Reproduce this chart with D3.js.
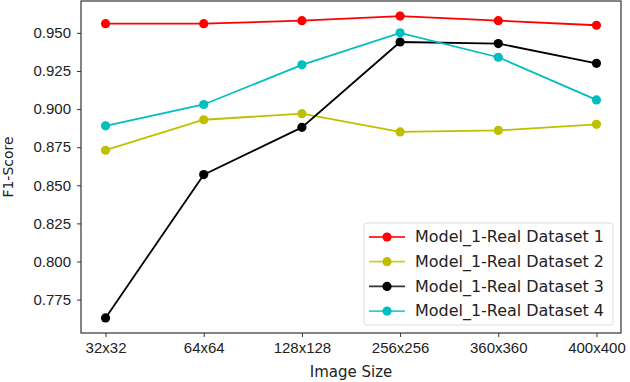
<!DOCTYPE html>
<html lang="en">
  <head>
    <meta charset="UTF-8" />
    <title>F1-Score vs Image Size</title>
    <script src="https://d3js.org/d3.v7.min.js"></script>
    <style>
      body {
        margin: 0;
        background: #fff;
        font-family: "DejaVu Sans", sans-serif;
      }
      text {
        fill: #222;
      }
    </style>
  </head>
  <body>
    <svg id="chart" width="630" height="382"></svg>

    <script>
      // Chart data
      const categories = ["32x32", "64x64", "128x128", "256x256", "360x360", "400x400"];
      const seriesNames = [
        "Model_1-Real Dataset 1",
        "Model_1-Real Dataset 2",
        "Model_1-Real Dataset 3",
        "Model_1-Real Dataset 4"
      ];
      const dataset1 = [0.956, 0.956, 0.958, 0.961, 0.958, 0.955];
      const dataset2 = [0.873, 0.893, 0.897, 0.885, 0.886, 0.890];
      const dataset3 = [0.763, 0.857, 0.888, 0.944, 0.943, 0.930];
      const dataset4 = [0.889, 0.903, 0.929, 0.950, 0.934, 0.906];
      const yTicks = [0.775, 0.800, 0.825, 0.850, 0.875, 0.900, 0.925, 0.950];
      const colors = ["#ff0000", "#bfbf00", "#000000", "#00bfbf"];

      const series = [dataset1, dataset2, dataset3, dataset4].map((values, i) => ({
        name: seriesNames[i],
        color: colors[i],
        values: values
      }));

      const margin = { top: 1, right: 9, bottom: 49, left: 81 };
      const width = 630 - margin.left - margin.right;
      const height = 382 - margin.top - margin.bottom;

      const svg = d3.select("#chart");
      const g = svg.append("g")
        .attr("transform", `translate(${margin.left},${margin.top})`);

      // matplotlib-style 5% padding on both axes
      const x = d3.scaleLinear()
        .domain([-0.25, categories.length - 0.75])
        .range([0, width]);

      const allValues = series.flatMap(s => s.values);
      const yMin = d3.min(allValues), yMax = d3.max(allValues);
      const pad = (yMax - yMin) * 0.05;
      const y = d3.scaleLinear()
        .domain([yMin - pad, yMax + pad])
        .range([height, 0]);

      // Axes
      const xAxis = g.append("g")
        .attr("transform", `translate(0,${height})`)
        .call(d3.axisBottom(x)
          .tickValues(d3.range(categories.length))
          .tickFormat(i => categories[i])
          .tickSize(4)
          .tickPadding(5));

      const yAxis = g.append("g")
        .call(d3.axisLeft(y)
          .tickValues(yTicks)
          .tickFormat(d3.format(".3f"))
          .tickSize(4)
          .tickPadding(6));

      [xAxis, yAxis].forEach(ax => {
        ax.select(".domain").remove();
        ax.selectAll("line").attr("stroke", "#333");
        ax.selectAll("text")
          .style("font-size", "15px")
          .attr("fill", "#222");
      });

      // Frame
      g.append("rect")
        .attr("width", width)
        .attr("height", height)
        .attr("fill", "none")
        .attr("stroke", "#333")
        .attr("stroke-width", 1.2);

      // Lines and markers
      const line = d3.line()
        .x((d, i) => x(i))
        .y(d => y(d));

      series.forEach(s => {
        g.append("path")
          .datum(s.values)
          .attr("fill", "none")
          .attr("stroke", s.color)
          .attr("stroke-width", 1.8)
          .attr("d", line);

        g.selectAll(null)
          .data(s.values)
          .enter()
          .append("circle")
          .attr("cx", (d, i) => x(i))
          .attr("cy", d => y(d))
          .attr("r", 4.6)
          .attr("fill", s.color);
      });

      // Axis titles
      svg.append("text")
        .attr("x", margin.left + width / 2)
        .attr("y", 377)
        .attr("text-anchor", "middle")
        .style("font-size", "15px")
        .text("Image Size");

      svg.append("text")
        .attr("transform", `translate(13,${margin.top + height / 2}) rotate(-90)`)
        .attr("text-anchor", "middle")
        .style("font-size", "14px")
        .text("F1-Score");

      // Legend
      const legend = svg.append("g").attr("transform", "translate(364,223)");
      legend.append("rect")
        .attr("width", 249)
        .attr("height", 102)
        .attr("rx", 3)
        .attr("fill", "#fff")
        .attr("fill-opacity", 0.8)
        .attr("stroke", "#ddd");

      series.forEach((s, i) => {
        const row = legend.append("g")
          .attr("transform", `translate(0,${14 + i * 24.7})`);
        row.append("line")
          .attr("x1", 5).attr("x2", 41)
          .attr("stroke", s.color)
          .attr("stroke-opacity", 0.8)
          .attr("stroke-width", 1.8);
        row.append("circle")
          .attr("cx", 23)
          .attr("r", 4.6)
          .attr("fill", s.color);
        row.append("text")
          .attr("x", 51)
          .attr("dy", "0.35em")
          .style("font-size", "15px")
          .attr("textLength", 189)
          .attr("lengthAdjust", "spacingAndGlyphs")
          .text(s.name);
      });
    </script>
  </body>
</html>
